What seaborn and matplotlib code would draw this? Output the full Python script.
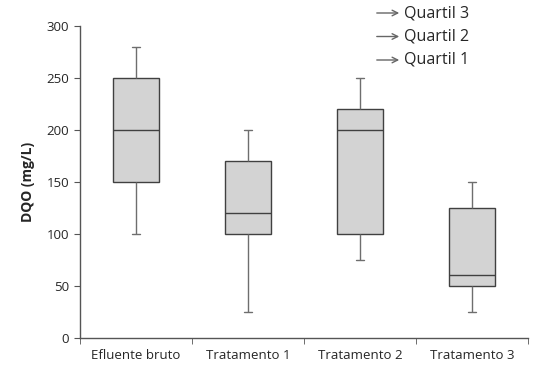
import numpy as np
import pandas as pd
import seaborn as sns
import matplotlib.pyplot as plt

# five-number summary per group: min, Q1, median, Q3, max
grupos = ["Efluente bruto", "Tratamento 1", "Tratamento 2", "Tratamento 3"]
minimo = [100, 25, 75, 25]
q1 = [150, 100, 100, 50]
mediana = [200, 120, 200, 61]
q3 = [250, 170, 220, 125]
maximo = [280, 200, 250, 150]
legenda = ["Quartil 3", "Quartil 2", "Quartil 1"]

rows = []
for i, g in enumerate(grupos):
    for v in (minimo[i], q1[i], mediana[i], q3[i], maximo[i]):
        rows.append([g, v])
df = pd.DataFrame(rows, columns=["grupo", "dqo"])

sns.set_style("ticks")
plt.rcParams["font.family"] = ["Open Sans", "DejaVu Sans"]

fig = plt.figure(figsize=(5.39, 3.74), dpi=100)
ax = fig.add_axes([0.148, 0.0963, 0.832, 0.834])

sns.boxplot(
    data=df, x="grupo", y="dqo", order=grupos,
    whis=(0, 100), width=0.41, color="#d3d3d3", saturation=1,
    linewidth=1.0, linecolor="#404040",
    whiskerprops={"color": "#6e6e6e", "linewidth": 1.0},
    capprops={"color": "#6e6e6e", "linewidth": 1.0},
    medianprops={"color": "#404040", "linewidth": 1.0},
    showfliers=False, ax=ax,
)
# shrink caps
for line in ax.lines:
    x = line.get_xdata()
    y = line.get_ydata()
    if len(x) == 2 and y[0] == y[1] and abs(x[1] - x[0]) < 0.3 and abs(x[1] - x[0]) > 0:
        c = (x[0] + x[1]) / 2
        line.set_xdata([c - 0.035, c + 0.035])

ax.set_xlim(-0.5, 3.5)
ax.set_ylim(0, 300)
ax.set_yticks(np.arange(0, 301, 50))
ax.set_xticks(range(len(grupos)))
ax.set_xticklabels(grupos)
ax.set_xticks(np.arange(-0.5, 4, 1), minor=True)
ax.tick_params(axis="x", which="major", length=0, labelsize=9.5, pad=8)
ax.tick_params(axis="x", which="minor", length=4, color="#555555")
ax.tick_params(axis="y", length=4, color="#555555", labelsize=9.5)
ax.set_xlabel("")
ax.set_ylabel("DQO (mg/L)", fontsize=10, fontweight="bold", labelpad=8)
for s in ("top", "right"):
    ax.spines[s].set_visible(False)
for s in ("left", "bottom"):
    ax.spines[s].set_color("#555555")
    ax.spines[s].set_linewidth(1.0)

for k, txt in enumerate(legenda):
    yf = 1 - (13 + 23.5 * k) / 374
    fig.text(404 / 539, yf, txt, fontsize=11.5, va="center", ha="left")
    ax.annotate("", xy=(402 / 539, yf), xytext=(374 / 539, yf),
                xycoords="figure fraction", textcoords="figure fraction",
                arrowprops=dict(arrowstyle="->", color="#666666", lw=1.0))

fig.savefig("out.png", dpi=100)
